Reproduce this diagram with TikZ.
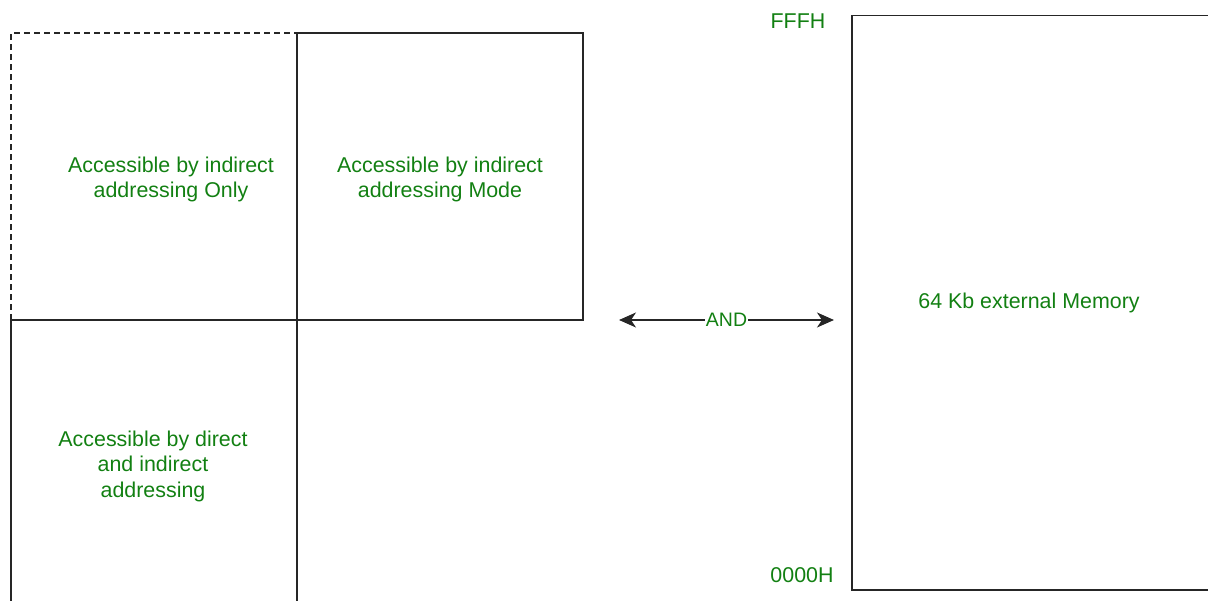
\documentclass[tikz,border=0pt]{standalone}
\usepackage{fontspec}
\setmainfont{Liberation Sans}
\usetikzlibrary{arrows.meta}
\definecolor{txtgreen}{RGB}{18,128,18}
\tikzset{
  line/.style={line width=1.5pt, draw=black!85},
  lbl/.style={text=txtgreen, align=center, font=\fontsize{21.4}{25.5}\selectfont, inner sep=0pt},
  dashline/.style={line, dash pattern=on 6pt off 4pt},
  dbl/.style={line, {Stealth[length=17pt,width=15pt,inset=5pt]}-{Stealth[length=17pt,width=15pt,inset=5pt]}}
}
\begin{document}
\begin{tikzpicture}[x=1pt,y=-1pt]
\useasboundingbox (0,0) rectangle (1208,601);
\clip (0,0) rectangle (1208,601);
% grid of cells
\coordinate (tl) at (11,33);
\coordinate (tm) at (297,33);
\coordinate (tr) at (583,33);
\coordinate (ml) at (11,320);
\coordinate (mm) at (297,320);
\coordinate (mr) at (583,320);
\coordinate (bl) at (11,610);
\coordinate (bm) at (297,610);
\draw[dashline] (ml) -- (tl) -- (tm);
\draw[line] (tm) -- (tr) -- (mr) -- (ml) -- (bl);
\draw[line] (tm) -- (bm);
\node[lbl] (t1) at (171,179.5) {Accessible by indirect\\addressing Only};
\node[lbl] (t2) at (440,179.5) {Accessible by indirect\\addressing Mode};
\node[lbl] (t3) at (153,466) {Accessible by direct\\and indirect\\addressing};
% memory
\node[draw, line, anchor=north west, minimum width=380pt, minimum height=574pt, inner sep=0pt] (mem) at (851,15) {};
\node[lbl] (memlbl) at (1029,303) {64 Kb external Memory};
\node[lbl] (fffh) at (798,21) {FFFH};
\node[lbl] (zero) at (802,575) {0000H};
% arrow
\coordinate (a1) at (619,320);
\coordinate (a2) at (834,320);
\draw[dbl] (a1) -- node[lbl, fill=white, inner xsep=1pt, inner ysep=2pt, font=\fontsize{19.5}{23}\selectfont] (andlbl) {AND} (a2);
\end{tikzpicture}
\end{document}
